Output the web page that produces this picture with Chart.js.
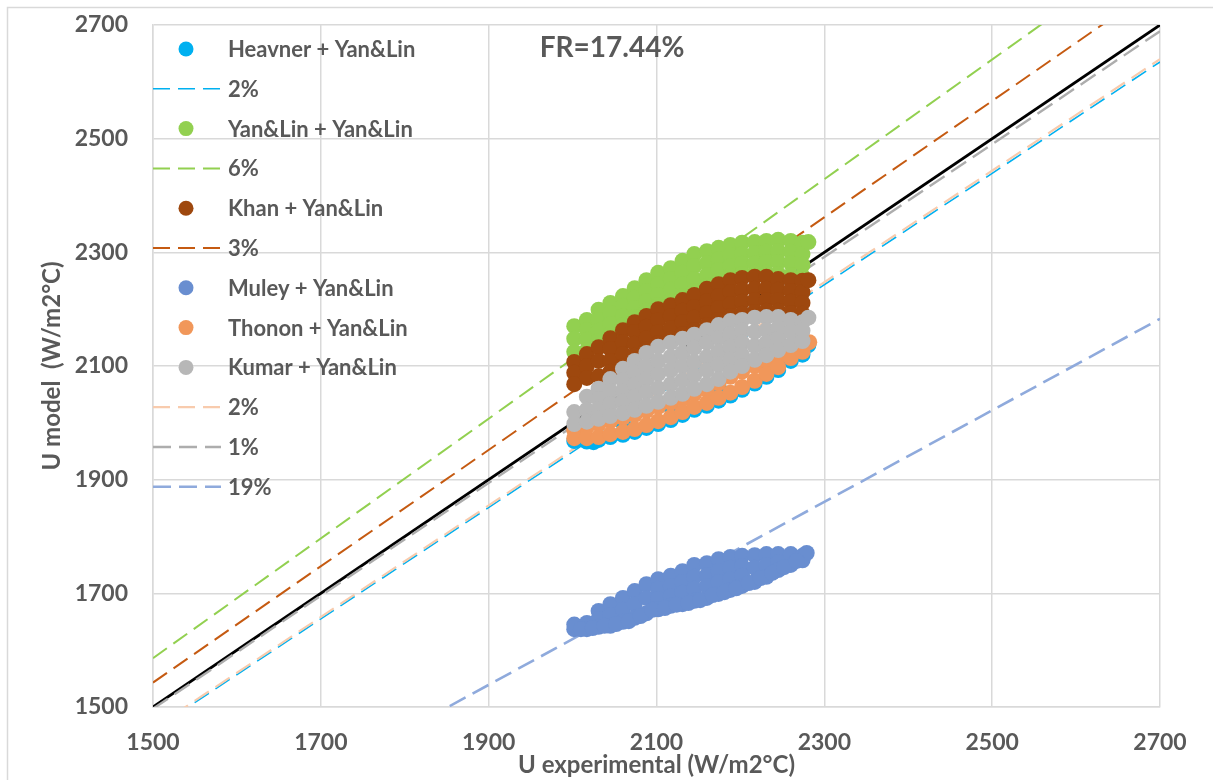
<!DOCTYPE html>
<html>
<head>
<meta charset="utf-8">
<script src="https://cdn.jsdelivr.net/npm/chart.js@4.4.1/dist/chart.umd.min.js"></script>
<style>
  html, body { margin: 0; padding: 0; background: #ffffff; }
  #wrap { width: 1213px; height: 780px; position: relative; }
</style>
</head>
<body>
<div id="wrap"><canvas id="chart" width="1213" height="780"></canvas></div>
<script>
// Axis ticks (W/m2°C)
const xTickValues = [1500, 1700, 1900, 2100, 2300, 2500, 2700];
const yTickValues = [1500, 1700, 1900, 2100, 2300, 2500, 2700];

// Measured vs. predicted overall heat transfer coefficient, [U experimental, U model]
const heavnerYanLin = [
  [2002,1968],[2017,1967],[2025,1966],[2031,1970],[2045,1975],[2060,1979],[2060,2000],[2074,1984],
  [2088,1991],[2102,1998],[2117,2005],[2117,2028],[2131,2014],[2145,2023],[2160,2030],[2174,2039],
  [2174,2063],[2188,2048],[2202,2058],[2217,2069],[2231,2081],[2231,2102],[2245,2093],[2260,2109],
  [2274,2120],[2281,2137]
];
const yanLinYanLin = [
  [2002,2170],[2002,2148],[2002,2125],
  [2017,2181],[2017,2163],[2017,2146],[2017,2128],
  [2031,2199],[2031,2181],[2031,2162],[2031,2144],
  [2045,2211],[2045,2193],[2045,2174],[2045,2156],
  [2060,2223],[2060,2206],[2060,2188],[2060,2172],
  [2074,2237],[2074,2220],[2074,2202],[2074,2186],
  [2088,2251],[2088,2232],[2088,2214],[2088,2197],
  [2102,2264],[2102,2244],[2102,2225],[2102,2207],
  [2117,2272],[2117,2253],[2117,2234],[2117,2214],
  [2131,2285],[2131,2264],[2131,2244],[2131,2223],
  [2145,2297],[2145,2276],[2145,2253],[2145,2232],
  [2160,2302],[2160,2281],[2160,2260],[2160,2241],
  [2174,2308],[2174,2288],[2174,2269],[2174,2250],
  [2188,2313],[2188,2295],[2188,2276],[2188,2258],
  [2202,2317],[2202,2297],[2202,2280],[2202,2262],
  [2217,2318],[2217,2299],[2217,2281],[2217,2264],
  [2231,2320],[2231,2301],[2231,2283],[2231,2264],
  [2245,2322],[2245,2302],[2245,2283],[2245,2262],
  [2260,2320],[2260,2301],[2260,2281],[2260,2260],
  [2274,2317],[2274,2297],[2274,2278],[2274,2258],
  [2281,2318]
];
const khanYanLin = [
  [2002,2107],[2002,2088],[2002,2068],
  [2017,2121],[2017,2100],[2017,2079],
  [2031,2133],[2031,2109],[2031,2082],
  [2045,2149],[2045,2130],[2045,2109],[2045,2090],
  [2060,2163],[2060,2142],[2060,2121],[2060,2100],
  [2074,2177],[2074,2160],[2074,2139],[2074,2118],
  [2088,2188],[2088,2169],[2088,2149],[2088,2130],
  [2102,2200],[2102,2181],[2102,2160],[2102,2140],
  [2117,2207],[2117,2188],[2117,2167],[2117,2148],
  [2131,2216],[2131,2197],[2131,2177],[2131,2156],
  [2145,2225],[2145,2204],[2145,2185],[2145,2163],
  [2160,2236],[2160,2214],[2160,2193],[2160,2172],
  [2174,2244],[2174,2223],[2174,2202],[2174,2181],
  [2188,2251],[2188,2230],[2188,2209],[2188,2188],
  [2202,2255],[2202,2234],[2202,2213],[2202,2192],
  [2217,2257],[2217,2236],[2217,2216],[2217,2195],
  [2231,2257],[2231,2236],[2231,2216],[2231,2197],
  [2245,2253],[2245,2234],[2245,2216],[2245,2197],
  [2260,2251],[2260,2232],[2260,2213],[2260,2193],
  [2274,2250],[2274,2230],[2274,2211],[2274,2192],
  [2281,2251]
];
const muleyYanLin = [
  [2002,1637],[2002,1645],
  [2017,1648],[2017,1637],
  [2031,1669],[2031,1655],[2031,1641],
  [2045,1681],[2045,1662],[2045,1643],
  [2060,1692],[2060,1671],[2060,1650],
  [2074,1704],[2074,1681],[2074,1657],
  [2088,1716],[2088,1692],[2088,1665],
  [2102,1725],[2102,1708],[2102,1690],[2102,1672],
  [2117,1731],[2117,1713],[2117,1695],[2117,1678],
  [2131,1739],[2131,1720],[2131,1701],[2131,1681],
  [2145,1750],[2145,1729],[2145,1708],[2145,1687],
  [2160,1753],[2160,1732],[2160,1713],[2160,1692],
  [2174,1760],[2174,1739],[2174,1720],[2174,1699],
  [2188,1764],[2188,1745],[2188,1725],[2188,1706],
  [2202,1766],[2202,1748],[2202,1731],[2202,1713],
  [2217,1767],[2217,1745],[2217,1720],
  [2231,1769],[2231,1750],[2231,1729],
  [2245,1769],[2245,1755],[2245,1741],
  [2260,1769],[2260,1750],
  [2274,1766],[2274,1758],
  [2279,1771],
  [2010,1637],[2024,1639],[2038,1643],[2052,1646],[2067,1651],[2081,1660],[2095,1671],
  [2110,1674],[2124,1680],[2138,1683],[2152,1688],[2167,1697],[2181,1702],[2195,1709],
  [2210,1718],[2224,1727],[2238,1736],[2252,1746],[2267,1757]
];
const thononYanLin = [
  [2002,1987],[2002,1973],[2017,1993],[2017,1973],[2031,1998],[2031,1975],
  [2045,2003],[2045,1980],[2060,2009],[2060,1984],[2074,2014],[2074,1989],
  [2088,2021],[2088,1996],[2102,2028],[2102,2003],[2117,2035],[2117,2010],
  [2131,2042],[2131,2019],[2145,2051],[2145,2028],[2160,2058],[2160,2035],
  [2174,2070],[2174,2044],[2188,2081],[2188,2053],[2202,2090],[2202,2063],
  [2217,2100],[2217,2074],[2231,2109],[2231,2086],[2245,2118],[2245,2098],
  [2260,2128],[2260,2114],[2274,2134],[2274,2125],[2282,2142]
];
const kumarYanLin = [
  [2002,2019],[2002,1998],
  [2017,2046],[2017,2023],[2017,2002],
  [2031,2060],[2031,2042],[2031,2024],[2031,2007],
  [2045,2077],[2045,2056],[2045,2033],[2045,2012],
  [2060,2095],[2060,2075],[2060,2056],[2060,2037],[2060,2017],
  [2074,2109],[2074,2088],[2074,2067],[2074,2046],[2074,2023],
  [2088,2123],[2088,2100],[2088,2077],[2088,2054],[2088,2030],
  [2102,2134],[2102,2109],[2102,2086],[2102,2061],[2102,2037],
  [2117,2141],[2117,2116],[2117,2093],[2117,2068],[2117,2044],
  [2131,2148],[2131,2123],[2131,2100],[2131,2075],[2131,2051],
  [2145,2155],[2145,2132],[2145,2107],[2145,2084],[2145,2060],
  [2160,2163],[2160,2141],[2160,2116],[2160,2093],[2160,2068],
  [2174,2172],[2174,2149],[2174,2125],[2174,2102],[2174,2077],
  [2188,2179],[2188,2156],[2188,2134],[2188,2111],[2188,2090],
  [2202,2181],[2202,2162],[2202,2141],[2202,2119],[2202,2100],
  [2217,2185],[2217,2160],[2217,2135],[2217,2111],
  [2231,2186],[2231,2163],[2231,2141],[2231,2119],
  [2245,2186],[2245,2167],[2245,2148],[2245,2128],
  [2260,2181],[2260,2160],[2260,2137],
  [2274,2177],[2274,2162],[2274,2144],
  [2281,2185]
];

// Deviation bands (end points of each straight line)
const perfectLine   = [[1500,1500],[2700,2700]];
const heavnerBand   = [[1500,1459],[2700,2635]];
const yanLinBand    = [[1500,1586],[2700,2850]];
const khanBand      = [[1500,1543],[2700,2771]];
const thononBand    = [[1500,1462],[2700,2640]];
const kumarBand     = [[1500,1497],[2700,2689]];
const muleyBand     = [[1500,1217],[2700,2183]];

const frLabel = 'FR=17.44%';

const TEXT = '#595959';
const GRID = '#d9d9d9';
const FONT = 'Lato, "Open Sans", sans-serif';

const pts = arr => arr.map(([x, y]) => ({ x, y }));

function scatterSet(label, arr, color, order) {
  return {
    label, data: pts(arr), order,
    showLine: false, pointRadius: 8, pointHoverRadius: 8,
    pointBorderWidth: 0, pointBackgroundColor: color, backgroundColor: color, borderColor: color
  };
}
function lineSet(label, arr, color, width, dash, order, inLegend = true) {
  return {
    label, data: pts(arr), order, inLegend,
    showLine: true, pointRadius: 0, borderColor: color, borderWidth: width,
    borderDash: dash, backgroundColor: color, fill: false
  };
}

// Datasets listed in legend order; "order" sets the stacking (lower = on top)
const datasets = [
  scatterSet('Heavner + Yan&Lin', heavnerYanLin, '#00B0F0', 6),
  lineSet('2%', heavnerBand, '#00B0F0', 1.6, [17, 8], 12),
  scatterSet('Yan&Lin + Yan&Lin', yanLinYanLin, '#92D050', 5),
  lineSet('6%', yanLinBand, '#92D050', 2, [17, 8], 10),
  scatterSet('Khan + Yan&Lin', khanYanLin, '#9E480E', 4),
  lineSet('3%', khanBand, '#C55A11', 2, [17, 8], 10),
  scatterSet('Muley + Yan&Lin', muleyYanLin, '#698ED0', 3),
  scatterSet('Thonon + Yan&Lin', thononYanLin, '#F1975A', 2),
  scatterSet('Kumar + Yan&Lin', kumarYanLin, '#B7B7B7', 1),
  lineSet('2%', thononBand, '#F8CBAD', 2.2, [17, 8], 11),
  lineSet('1%', kumarBand, '#ADADAD', 2.4, [18, 8], 10),
  lineSet('19%', muleyBand, '#8FAADC', 2.6, [18, 8], 10),
  lineSet('y = x', perfectLine, '#000000', 2.8, [], 10, false)
];

// Legend drawn inside the plot area, plus the FR annotation and outer frame
const decorPlugin = {
  id: 'decor',
  beforeDraw(chart) {
    const ctx = chart.ctx;
    ctx.save();
    ctx.fillStyle = '#ffffff';
    ctx.fillRect(0, 0, chart.width, chart.height);
    ctx.strokeStyle = GRID;
    ctx.lineWidth = 1.5;
    ctx.beginPath();
    ctx.moveTo(7.5, chart.height);
    ctx.lineTo(7.5, 7.5);
    ctx.lineTo(chart.width, 7.5);
    ctx.stroke();
    ctx.restore();
  },
  afterDatasetsDraw(chart) {
    const ctx = chart.ctx;
    const area = chart.chartArea;
    ctx.save();
    ctx.font = 'bold 22px ' + FONT;
    ctx.textBaseline = 'middle';
    ctx.textAlign = 'left';
    let row = 0;
    chart.data.datasets.forEach(ds => {
      if (ds.inLegend === false) return;
      const y = area.top + 24 + row * 39.8;
      if (ds.showLine) {
        ctx.strokeStyle = ds.borderColor;
        ctx.lineWidth = ds.borderWidth;
        ctx.setLineDash(ds.borderDash || []);
        ctx.beginPath();
        ctx.moveTo(area.left, y);
        ctx.lineTo(area.left + 68, y);
        ctx.stroke();
        ctx.setLineDash([]);
      } else {
        ctx.fillStyle = ds.pointBackgroundColor;
        ctx.beginPath();
        ctx.arc(area.left + 33, y, 7.5, 0, Math.PI * 2);
        ctx.fill();
      }
      ctx.fillStyle = TEXT;
      ctx.fillText(ds.label, area.left + 75, y + 1);
      row++;
    });
    ctx.font = 'bold 28px ' + FONT;
    ctx.textAlign = 'center';
    ctx.fillText(frLabel, 612, 48);
    ctx.restore();
  }
};

const tickFont = { family: FONT, size: 23, weight: 'bold' };
const titleFont = { family: FONT, size: 24, weight: 'bold' };

function build() {
  new Chart(document.getElementById('chart'), {
    type: 'scatter',
    data: { datasets },
    plugins: [decorPlugin],
    options: {
      responsive: false,
      animation: false,
      events: [],
      layout: { padding: { top: 25, right: 53, left: 0, bottom: 0 } },
      plugins: { legend: { display: false }, tooltip: { enabled: false } },
      scales: {
        x: {
          type: 'linear', min: 1500, max: 2700,
          afterBuildTicks: s => { s.ticks = xTickValues.map(v => ({ value: v })); },
          afterFit: s => { s.height = 73; },
          ticks: { color: TEXT, font: tickFont, padding: 22, callback: v => String(v) },
          grid: { color: GRID, lineWidth: 1.5, drawTicks: false },
          border: { color: GRID, width: 1.5 },
          title: {
            display: true, text: 'U experimental (W/m2°C)', color: TEXT,
            font: titleFont, lineHeight: 1.1, padding: { top: 0, bottom: 0 }
          }
        },
        y: {
          type: 'linear', min: 1500, max: 2700,
          afterBuildTicks: s => { s.ticks = yTickValues.map(v => ({ value: v })); },
          afterFit: s => { s.width = 153; },
          ticks: { color: TEXT, font: tickFont, padding: 0, callback: v => String(v) },
          grid: { color: GRID, lineWidth: 1.5, drawTicks: true, tickLength: 25, tickColor: 'rgba(0,0,0,0)' },
          border: { color: GRID, width: 1.5 },
          title: {
            display: true, text: 'U model  (W/m2°C)', color: TEXT,
            font: titleFont, padding: { top: 38, bottom: 0 }
          }
        }
      }
    }
  });
}

if (document.fonts && document.fonts.load) {
  Promise.all([document.fonts.load('bold 22px Lato'), document.fonts.load('bold 19px Lato')])
    .then(build, build);
} else {
  build();
}
</script>
</body>
</html>
